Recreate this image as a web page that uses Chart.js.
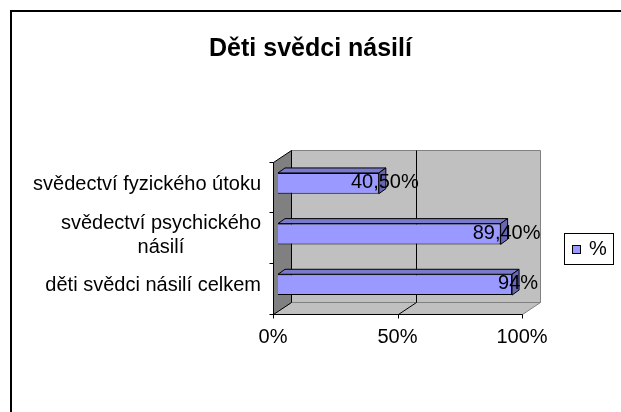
<!DOCTYPE html>
<html>
<head>
<meta charset="utf-8">
<script src="https://cdn.jsdelivr.net/npm/chart.js@4.4.0/dist/chart.umd.min.js"></script>
<style>
  html, body { margin: 0; padding: 0; background: #fff; }
  #wrap { width: 621px; height: 412px; }
</style>
</head>
<body>
<div id="wrap"><canvas id="chart" width="621" height="412"></canvas></div>
<script>
const chartTitle = "Děti svědci násilí";
const categories = [["svědectví fyzického útoku"], ["svědectví psychického", "násilí"], ["děti svědci násilí celkem"]];
const seriesName = "%";
const values = [40.5, 89.4, 94];
const xTicks = [0, 50, 100];

const FONT = '"Liberation Sans", Arial, sans-serif';
// depth offsets relative to the plane the bars are drawn in
const FRONT = { dx: -5, dy: 3.5 };
const BACK = { dx: 13, dy: -8 };
const BAR_DEPTH = { dx: 7, dy: -5 };

function poly(ctx, pts, fill, stroke) {
  ctx.beginPath();
  ctx.moveTo(pts[0][0], pts[0][1]);
  for (let i = 1; i < pts.length; i++) ctx.lineTo(pts[i][0], pts[i][1]);
  ctx.closePath();
  if (fill) { ctx.fillStyle = fill; ctx.fill(); }
  if (stroke) { ctx.strokeStyle = stroke; ctx.lineWidth = 1; ctx.stroke(); }
}
function line(ctx, x1, y1, x2, y2, color) {
  ctx.beginPath();
  ctx.moveTo(x1, y1);
  ctx.lineTo(x2, y2);
  ctx.strokeStyle = color;
  ctx.lineWidth = 1;
  ctx.stroke();
}
function fmt(v) {
  return Number.isInteger(v) ? v + "%" : v.toFixed(2).replace(".", ",") + "%";
}

const excel3d = {
  id: "excel3d",
  beforeDraw(chart) {
    const ctx = chart.ctx;
    ctx.save();
    ctx.fillStyle = "#fff";
    ctx.fillRect(0, 0, chart.width, chart.height);
    ctx.strokeStyle = "#000";
    ctx.lineWidth = 2;
    ctx.strokeRect(11, 11, chart.width + 20, chart.height + 20);
    ctx.restore();
  },
  beforeDatasetsDraw(chart) {
    const { ctx, chartArea: a, scales: { x } } = chart;
    const fl = Math.round(a.left + FRONT.dx) + 0.5, fr = Math.round(a.right + FRONT.dx) + 0.5;
    const ft = Math.round(a.top + FRONT.dy) + 0.5, fb = Math.round(a.bottom + FRONT.dy) + 0.5;
    const bl = Math.round(a.left + BACK.dx) + 0.5, br = Math.round(a.right + BACK.dx) + 0.5;
    const bt = Math.round(a.top + BACK.dy) + 0.5, bb = Math.round(a.bottom + BACK.dy) + 0.5;
    ctx.save();
    // back wall, floor, side wall
    poly(ctx, [[bl, bt], [br, bt], [br, bb], [bl, bb]], "#c0c0c0", "#808080");
    poly(ctx, [[fl, fb], [fr, fb], [br, bb], [bl, bb]], "#c0c0c0", "#808080");
    poly(ctx, [[fl, ft], [bl, bt], [bl, bb], [fl, fb]], "#808080", "#000");
    // gridlines
    xTicks.forEach(v => {
      if (v <= x.min || v >= x.max) return;
      const px = Math.round(x.getPixelForValue(v));
      line(ctx, px + BACK.dx + 0.5, bt, px + BACK.dx + 0.5, bb, "#000");
      line(ctx, px + FRONT.dx + 0.5, fb, px + BACK.dx + 0.5, bb, "#000");
    });
    // front axes
    line(ctx, fl, ft, fl, fb, "#000");
    line(ctx, fl, fb, fr, fb, "#000");
    xTicks.forEach(v => {
      const px = Math.round(x.getPixelForValue(v) + FRONT.dx) + 0.5;
      line(ctx, px, fb, px, fb + 4, "#000");
    });
    const n = categories.length;
    for (let i = 0; i <= n; i++) {
      const py = Math.round(a.top + i * a.height / n + FRONT.dy) + 0.5;
      line(ctx, fl - 4, py, fl, py, "#000");
    }
    ctx.restore();
  },
  afterDatasetsDraw(chart) {
    const { ctx, chartArea: a, scales: { y } } = chart;
    const meta = chart.getDatasetMeta(0);
    ctx.save();
    meta.data.forEach((el, i) => {
      const top = el.y - el.height / 2, bottom = el.y + el.height / 2;
      const left = el.base, right = el.x;
      const dx = BAR_DEPTH.dx, dy = BAR_DEPTH.dy;
      poly(ctx, [[left, top], [right, top], [right + dx, top + dy], [left + dx, top + dy]], "#7a7acc", "#000");
      poly(ctx, [[right, top], [right + dx, top + dy], [right + dx, bottom + dy], [right, bottom]], "#6666b3", "#000");
    });
    // value labels
    ctx.font = "20px " + FONT;
    ctx.fillStyle = "#000";
    ctx.textAlign = "center";
    ctx.textBaseline = "middle";
    meta.data.forEach((el, i) => {
      ctx.fillText(fmt(values[i]), el.x + 6, el.y - 1);
    });
    // category labels: block right aligned, lines centred within it
    const labelRight = a.left + FRONT.dx - 12;
    categories.forEach((lines, i) => {
      const w = Math.max(...lines.map(s => ctx.measureText(s).width));
      const cx = labelRight - w / 2;
      const cy = y.getPixelForTick(i) + 1;
      lines.forEach((s, j) => {
        ctx.fillText(s, cx, cy + (j - (lines.length - 1) / 2) * 24);
      });
    });
    // legend
    const ds = chart.data.datasets[0];
    ctx.lineWidth = 1;
    ctx.strokeStyle = "#000";
    ctx.strokeRect(564.5, 233.5, 49, 31);
    ctx.fillStyle = ds.backgroundColor;
    ctx.fillRect(572.5, 245.5, 8, 8);
    ctx.strokeRect(572.5, 245.5, 8, 8);
    ctx.fillStyle = "#000";
    ctx.textAlign = "left";
    ctx.fillText(ds.label, 589, 249);
    ctx.restore();
  }
};

new Chart(document.getElementById("chart"), {
  type: "bar",
  data: {
    labels: categories,
    datasets: [
      {
        label: seriesName,
        data: values,
        backgroundColor: "#9999ff",
        borderColor: "#000",
        borderWidth: 1,
        barPercentage: 0.41,
        categoryPercentage: 1,
      },
    ],
  },
  options: {
    indexAxis: "y",
    responsive: false,
    animation: false,
    devicePixelRatio: 1,
    layout: { padding: { top: 0, bottom: 62, left: 0, right: 0 } },
    scales: {
      x: {
        min: 0,
        max: 100,
        afterBuildTicks: (s) => { s.ticks = xTicks.map(v => ({ value: v })); },
        ticks: {
          callback: (v) => v + "%",
          font: { family: FONT, size: 20 },
          color: "#000",
          labelOffset: FRONT.dx,
          padding: 15,
          maxRotation: 0,
        },
        grid: { display: false, drawTicks: false },
        border: { display: false },
        afterFit: (s) => { s.height = 40; },
      },
      y: {
        ticks: { display: false },
        grid: { display: false, drawTicks: false },
        border: { display: false },
        afterFit: (s) => { s.width = 278; },
      },
      yPad: {
        type: "category",
        position: "right",
        ticks: { display: false },
        grid: { display: false, drawTicks: false },
        border: { display: false },
        afterFit: (s) => { s.width = 94; },
      },
    },
    plugins: {
      legend: { display: false },
      tooltip: { enabled: false },
      title: {
        display: true,
        text: chartTitle,
        color: "#000",
        font: { family: FONT, size: 25, weight: "bold" },
        padding: { top: 34, bottom: 94 },
      },
    },
  },
  plugins: [excel3d],
});
</script>
</body>
</html>
